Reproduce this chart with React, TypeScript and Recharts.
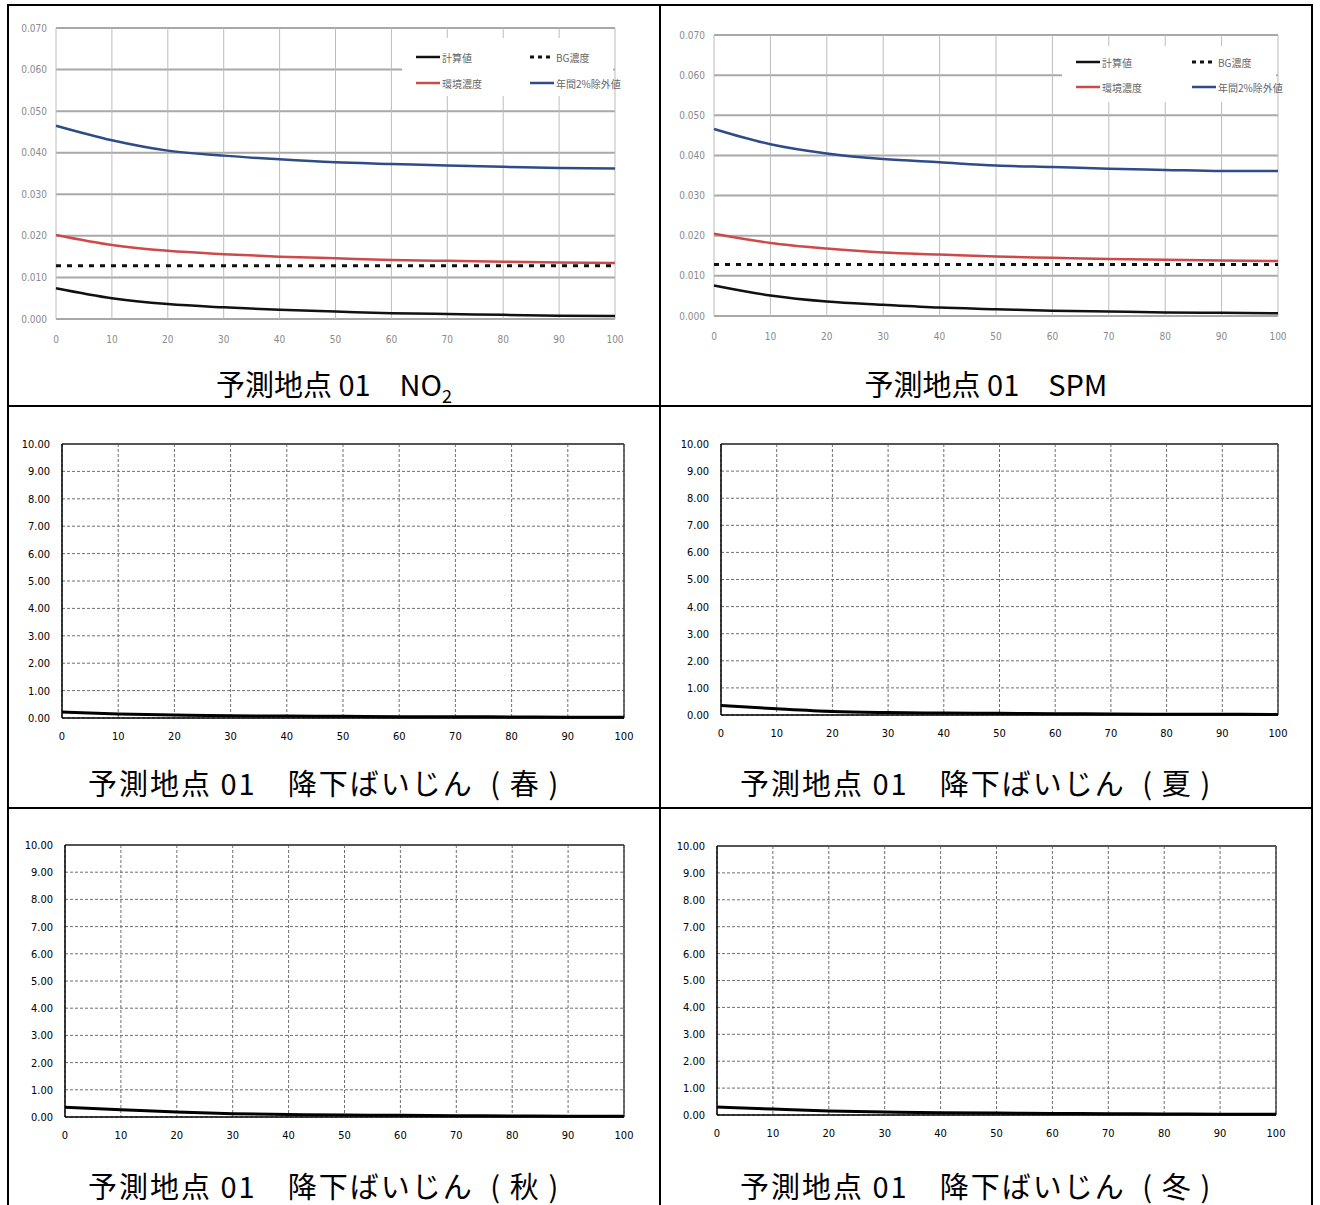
import React from 'react';
import { LineChart, Line, XAxis, YAxis, CartesianGrid, ReferenceLine } from 'recharts';

// distance from the road edge (m)
const distance = [0, 10, 20, 30, 40, 50, 60, 70, 80, 90, 100];
const distanceTicks = [0, 10, 20, 30, 40, 50, 60, 70, 80, 90, 100];
const airTicks = [0, 0.01, 0.02, 0.03, 0.04, 0.05, 0.06, 0.07];
const dustTicks = [0, 1, 2, 3, 4, 5, 6, 7, 8, 9, 10];

const no2Calc = [0.0074, 0.005, 0.0036, 0.0028, 0.0022, 0.0018, 0.0014, 0.0012, 0.001, 0.0008, 0.0007];
const no2Bg = [0.0128, 0.0128, 0.0128, 0.0128, 0.0128, 0.0128, 0.0128, 0.0128, 0.0128, 0.0128, 0.0128];
const no2Env = [0.0202, 0.0178, 0.0164, 0.0156, 0.015, 0.0146, 0.0142, 0.014, 0.0138, 0.0136, 0.0135];
const no2Annual = [0.0465, 0.043, 0.0405, 0.0393, 0.0384, 0.0377, 0.0373, 0.0369, 0.0366, 0.0363, 0.0362];

const spmCalc = [0.0076, 0.0051, 0.0036, 0.0028, 0.0021, 0.0017, 0.0013, 0.0011, 0.0009, 0.0008, 0.0007];
const spmBg = [0.0128, 0.0128, 0.0128, 0.0128, 0.0128, 0.0128, 0.0128, 0.0128, 0.0128, 0.0128, 0.0128];
const spmEnv = [0.0205, 0.0182, 0.0168, 0.0158, 0.0153, 0.0148, 0.0145, 0.0142, 0.014, 0.0138, 0.0137];
const spmAnnual = [0.0466, 0.0428, 0.0405, 0.0391, 0.0383, 0.0375, 0.0371, 0.0367, 0.0364, 0.0361, 0.0361];

const dustSpring = [0.22, 0.15, 0.11, 0.08, 0.07, 0.06, 0.05, 0.05, 0.04, 0.03, 0.03];
const dustSummer = [0.35, 0.23, 0.13, 0.09, 0.07, 0.06, 0.05, 0.04, 0.03, 0.03, 0.02];
const dustAutumn = [0.36, 0.27, 0.18, 0.12, 0.09, 0.07, 0.06, 0.05, 0.04, 0.03, 0.03];
const dustWinter = [0.3, 0.22, 0.15, 0.11, 0.08, 0.07, 0.06, 0.05, 0.04, 0.03, 0.03];

const legendNames = ['計算値', 'BG濃度', '環境濃度', '年間2%除外値'];

const RED = '#cc4a4a';
const BLUE = '#2f4b88';
const tickFont = "'DejaVu Sans Condensed', 'Liberation Sans Narrow', 'DejaVu Sans', sans-serif";
const jpFont = "'Noto Sans CJK JP', sans-serif";

// plot rect -> chart box (y axis 44 wide, x axis 30 high)
function frame(x0: number, y0: number, x1: number, y1: number) {
  return {
    style: { position: 'absolute' as const, left: x0 - 50, top: y0 - 20 },
    width: x1 - x0 + 65,
    height: y1 - y0 + 55,
    margin: { top: 20, right: 15, bottom: 5, left: 6 },
  };
}

function Swatch({ color, dotted }: { color: string; dotted?: boolean }) {
  return (
    <svg width={24} height={8} style={{ display: 'block' }}>
      <line x1={0} y1={4} x2={24} y2={4} stroke={color} strokeWidth={dotted ? 3 : 2.5}
        strokeDasharray={dotted ? '4 4' : undefined} />
    </svg>
  );
}

function AirLegend({ left, top, width, height, row1, row2, col1, col2 }: any) {
  const item = (x: number, y: number, color: string, name: string, dotted?: boolean) => (
    <div style={{ position: 'absolute', left: x - left, top: y - top - 7, display: 'flex', alignItems: 'center', height: 14 }}>
      <Swatch color={color} dotted={dotted} />
      <span style={{ fontSize: 10, color: '#666', fontFamily: jpFont, marginLeft: 2, whiteSpace: 'nowrap' }}>{name}</span>
    </div>
  );
  return (
    <div style={{ position: 'absolute', left, top, width, height, background: '#fff' }}>
      {item(col1, row1, '#111', legendNames[0])}
      {item(col2, row1, '#111', legendNames[1], true)}
      {item(col1, row2, RED, legendNames[2])}
      {item(col2, row2, BLUE, legendNames[3])}
    </div>
  );
}

function AirChart({ rect, calc, bg, env, annual }: any) {
  const data = distance.map((d, i) => ({ d, calc: calc[i], bg: bg[i], env: env[i], annual: annual[i] }));
  const f = frame(rect[0], rect[1], rect[2], rect[3]);
  const tick = { fill: '#8a8a8a', fontSize: 10, fontFamily: tickFont };
  return (
    <div style={f.style}>
      <LineChart width={f.width} height={f.height} data={data} margin={f.margin}>
        <CartesianGrid vertical={false} stroke="#a8a8a8" strokeWidth={2} />
        <CartesianGrid horizontal={false} stroke="#bcbcbc" strokeWidth={1} />
        <XAxis dataKey="d" type="number" domain={[0, 100]} ticks={distanceTicks} height={30}
          axisLine={false} tickLine={false} tick={tick} tickMargin={11} interval={0} />
        <YAxis type="number" domain={[0, 0.07]} ticks={airTicks} width={44} axisLine={false}
          tickLine={false} tick={tick} tickMargin={3} interval={0} tickFormatter={(v: number) => v.toFixed(3)} />
        <Line dataKey="annual" type="monotone" stroke={BLUE} strokeWidth={2.5} dot={false} isAnimationActive={false} />
        <Line dataKey="env" type="monotone" stroke={RED} strokeWidth={2.5} dot={false} isAnimationActive={false} />
        <Line dataKey="bg" type="linear" stroke="#111" strokeWidth={3} strokeDasharray="5 6" dot={false} isAnimationActive={false} />
        <Line dataKey="calc" type="monotone" stroke="#111" strokeWidth={2.5} dot={false} isAnimationActive={false} />
      </LineChart>
    </div>
  );
}

function DustChart({ rect, values }: any) {
  const data = distance.map((d, i) => ({ d, v: values[i] }));
  const f = frame(rect[0], rect[1], rect[2], rect[3]);
  const tick = { fill: '#000', fontSize: 11, fontFamily: tickFont };
  return (
    <div style={f.style}>
      <LineChart width={f.width} height={f.height} data={data} margin={f.margin}>
        <CartesianGrid stroke="#6f6f6f" strokeDasharray="3 2" strokeWidth={1} />
        <XAxis dataKey="d" type="number" domain={[0, 100]} ticks={distanceTicks} height={30}
          axisLine={{ stroke: '#000', strokeWidth: 1.5 }} tickLine={false} tick={tick} tickMargin={8} interval={0} />
        <YAxis type="number" domain={[0, 10]} ticks={dustTicks} width={44}
          axisLine={{ stroke: '#000', strokeWidth: 1.5 }} tickLine={false} tick={tick} tickMargin={6}
          interval={0} tickFormatter={(v: number) => v.toFixed(2)} />
        <ReferenceLine y={10} stroke="#555" strokeWidth={2} />
        <ReferenceLine x={100} stroke="#444" strokeWidth={1.5} />
        <Line dataKey="v" type="monotone" stroke="#000" strokeWidth={3} dot={false} isAnimationActive={false} />
      </LineChart>
    </div>
  );
}

function Caption({ cx, cy, left, spacing, children }: any) {
  const pos = left !== undefined
    ? { left, textAlign: 'left' as const }
    : { left: cx - 300, width: 600, textAlign: 'center' as const };
  return (
    <div style={{ position: 'absolute', ...pos, top: cy - 18, height: 36, lineHeight: '36px',
      fontSize: 29, fontFamily: jpFont, color: '#000', whiteSpace: 'pre', letterSpacing: spacing ?? 0 }}>
      {children}
    </div>
  );
}

const rule = (left: number, top: number, width: number, height: number) => (
  <div style={{ position: 'absolute', left, top, width, height, background: '#000' }} />
);

const dustCaption = (season: string) => `予測地点 01　降下ばいじん\u2002(\u2009${season}\u2009)`;

export default function App() {
  return (
    <div style={{ position: 'absolute', left: 0, top: 0, width: 1320, height: 1205, background: '#fff', overflow: 'hidden' }}>
      {rule(7, 4, 1306, 2)}
      {rule(7, 4, 2, 1201)}
      {rule(1311, 4, 2, 1201)}
      {rule(659, 4, 2, 1201)}
      {rule(7, 405, 1306, 2)}
      {rule(7, 807, 1306, 2)}

      <AirChart rect={[56, 28, 615, 319]} calc={no2Calc} bg={no2Bg} env={no2Env} annual={no2Annual} />
      <AirLegend left={402} top={38} width={211} height={58} row1={57} row2={83} col1={416} col2={530} />
      <Caption cx={334} cy={383}>予測地点 01　NO<sub style={{ fontSize: 18 }}>2</sub></Caption>

      <AirChart rect={[714, 35, 1278, 316]} calc={spmCalc} bg={spmBg} env={spmEnv} annual={spmAnnual} />
      <AirLegend left={1062} top={46} width={214} height={56} row1={62} row2={87} col1={1076} col2={1192} />
      <Caption cx={986} cy={383}>予測地点 01　SPM</Caption>

      <DustChart rect={[62, 444, 624, 718]} values={dustSpring} />
      <Caption left={88} cy={782} spacing={2}>{dustCaption('春')}</Caption>

      <DustChart rect={[721, 444, 1278, 715]} values={dustSummer} />
      <Caption left={740} cy={782} spacing={2}>{dustCaption('夏')}</Caption>

      <DustChart rect={[65, 845, 624, 1117]} values={dustAutumn} />
      <Caption left={88} cy={1185} spacing={2}>{dustCaption('秋')}</Caption>

      <DustChart rect={[717, 846, 1276, 1115]} values={dustWinter} />
      <Caption left={740} cy={1185} spacing={2}>{dustCaption('冬')}</Caption>
    </div>
  );
}
